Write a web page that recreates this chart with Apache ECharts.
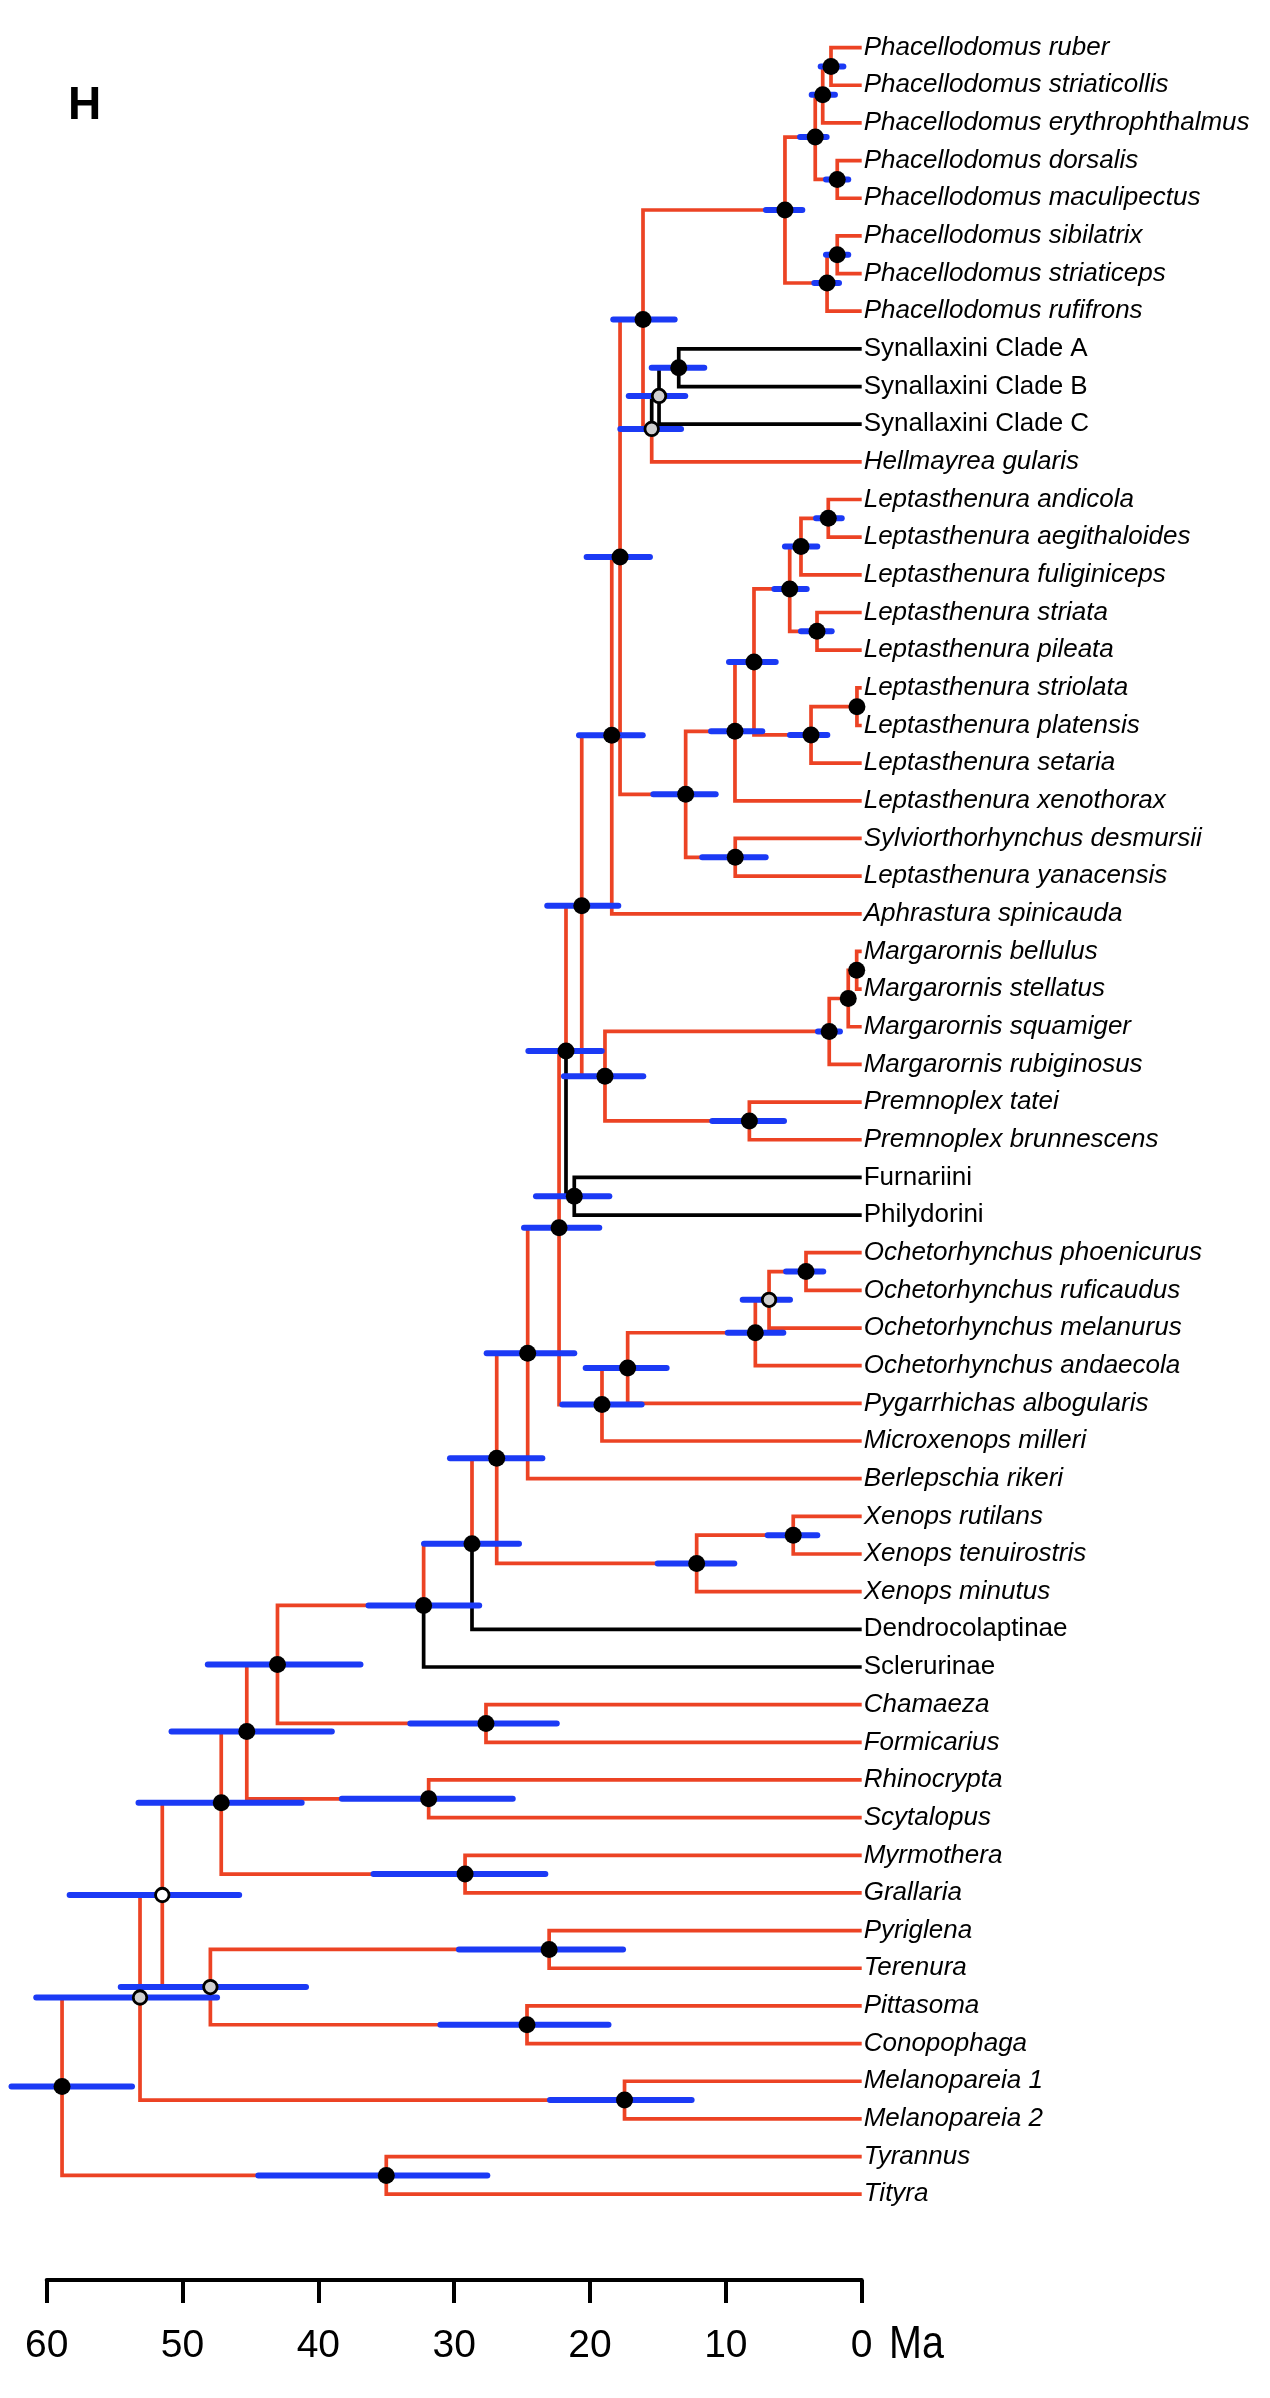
<!DOCTYPE html>
<html><head><meta charset="utf-8">
<script src="https://cdn.jsdelivr.net/npm/echarts/dist/echarts.min.js"></script>
<style>html,body{margin:0;padding:0;background:#fff}#chart{width:1270px;height:2398px}</style>
</head><body><div id="chart"></div>
<script>
// ---------- DATA ----------
const tipNames = [
  'Phacellodomus ruber','Phacellodomus striaticollis','Phacellodomus erythrophthalmus','Phacellodomus dorsalis',
  'Phacellodomus maculipectus','Phacellodomus sibilatrix','Phacellodomus striaticeps','Phacellodomus rufifrons',
  'Synallaxini Clade A','Synallaxini Clade B','Synallaxini Clade C','Hellmayrea gularis',
  'Leptasthenura andicola','Leptasthenura aegithaloides','Leptasthenura fuliginiceps','Leptasthenura striata',
  'Leptasthenura pileata','Leptasthenura striolata','Leptasthenura platensis','Leptasthenura setaria',
  'Leptasthenura xenothorax','Sylviorthorhynchus desmursii','Leptasthenura yanacensis','Aphrastura spinicauda',
  'Margarornis bellulus','Margarornis stellatus','Margarornis squamiger','Margarornis rubiginosus',
  'Premnoplex tatei','Premnoplex brunnescens','Furnariini','Philydorini',
  'Ochetorhynchus phoenicurus','Ochetorhynchus ruficaudus','Ochetorhynchus melanurus','Ochetorhynchus andaecola',
  'Pygarrhichas albogularis','Microxenops milleri','Berlepschia rikeri','Xenops rutilans',
  'Xenops tenuirostris','Xenops minutus','Dendrocolaptinae','Sclerurinae',
  'Chamaeza','Formicarius','Rhinocrypta','Scytalopus',
  'Myrmothera','Grallaria','Pyriglena','Terenura',
  'Pittasoma','Conopophaga','Melanopareia 1','Melanopareia 2',
  'Tyrannus','Tityra'
];
const plainTips = ['Synallaxini Clade A','Synallaxini Clade B','Synallaxini Clade C','Furnariini','Philydorini','Dendrocolaptinae','Sclerurinae'];

const nodeIds = ['n1','n2','n3','n4','n5','n6','n7','n8','n9','n10','n11','n12','n13','n14','n15','n16','n17','n18','n19','n20',
  'n21','n22','n23','n24','n25','n26','n27','n28','n29','n30','n31','n32','n33','n34','n35','n36','n37','n38','n39','n40',
  'n41','n42','n43','n44','n45','n46','n47','n48','n49','n50','n51','n52','n53','n54','n55','n56','n57'];
const nodeChildren = [
  [0,1],['n1',2],[3,4],['n2','n3'],[5,6],['n5',7],['n4','n6'],[8,9],['n8',10],['n9',11],
  ['n7','n10'],[12,13],['n12',14],[15,16],['n13','n14'],[17,18],['n16',19],['n15','n17'],['n18',20],[21,22],
  ['n19','n20'],['n11','n21'],['n22',23],[24,25],['n24',26],['n25',27],[28,29],['n26','n27'],['n23','n28'],[30,31],
  ['n29','n30'],[32,33],['n32',34],['n33',35],['n34',36],['n35',37],['n31','n36'],['n37',38],[39,40],['n39',41],
  ['n38','n40'],['n41',42],['n42',43],[44,45],['n43','n44'],[46,47],['n45','n46'],[48,49],['n47','n48'],[50,51],
  [52,53],['n50','n51'],['n49','n52'],[54,55],['n53','n54'],[56,57],['n55','n56']
];
const nodeAge = [2.26,2.87,1.80,3.42,1.80,2.55,5.65,13.47,14.92,15.46,16.10,2.46,4.47,3.29,5.30,0.35,3.73,7.93,9.33,9.31,
  12.96,17.79,18.40,0.37,0.99,2.39,8.27,18.90,20.61,21.16,21.77,4.10,6.82,7.83,17.23,19.12,22.28,24.59,5.04,12.15,
  26.87,28.69,32.25,27.66,43.01,31.88,45.27,29.20,47.15,23.01,24.64,47.95,51.49,17.46,53.13,35.00,58.87];
const hpdLow = [1.35,1.97,0.99,2.58,0.99,1.67,4.37,11.59,12.99,13.30,13.77,1.47,3.27,2.21,4.05,0.32,2.53,6.33,7.32,7.07,
  10.75,15.59,16.12,0.35,0.80,1.60,5.72,16.08,17.92,18.58,19.14,2.83,5.28,5.77,14.36,16.20,19.32,21.16,3.27,9.38,
  23.51,25.23,28.16,22.45,36.90,25.69,39.01,23.29,41.23,17.57,18.64,40.91,45.83,12.52,47.46,27.56,53.72];
const hpdHigh = [3.02,3.68,2.63,4.54,2.63,3.49,7.05,15.46,17.15,17.77,18.29,3.36,5.65,4.47,6.43,0.38,5.28,9.77,11.09,11.74,
  15.34,20.25,20.81,0.39,1.20,3.22,11.00,21.92,23.15,23.98,24.54,5.57,8.76,9.86,20.32,22.04,24.86,27.61,6.92,15.02,
  30.31,32.22,36.31,33.23,48.14,38.27,50.81,35.94,53.24,29.65,31.02,54.55,58.31,22.95,60.77,44.42,62.59];
const nodeFill = ['k','k','k','k','k','k','k','k','g','g','k','k','k','k','k','k','k','k','k','k',
  'k','k','k','k','k','k','k','k','k','k','k','k','g','k','k','k','k','k','k','k',
  'k','k','k','k','k','k','k','k','k','k','k','g','w','k','g','k','k'];
const blackEdges = [8,9,10,'n8','n9',30,31,'n30',42,43];
const axisTicks = [60,50,40,30,20,10,0];

// ---------- LAYOUT / STYLE ----------
const RED = '#EC4324', BLUE = '#1B3AF5', BLACK = '#000000', GRAY = '#CFCFCF';
const GRID_TOP = 10, GRID_BOTTOM = 118, TIP0 = 47.6, TIPSTEP = 37.66;
const Y_MIN = -(TIP0 - GRID_TOP) / TIPSTEP;
const Y_MAX = Y_MIN + (2398 - GRID_TOP - GRID_BOTTOM) / TIPSTEP;
const SANS = "'Liberation Sans',Arial,sans-serif";

// ---------- TREE GEOMETRY ----------
const nodeIndex = {}; nodeIds.forEach((id, i) => nodeIndex[id] = i);
const yMemo = {};
function getY(ref) {
  if (typeof ref === 'number') return ref;
  if (yMemo[ref] !== undefined) return yMemo[ref];
  const ch = nodeChildren[nodeIndex[ref]];
  const v = (getY(ch[0]) + getY(ch[1])) / 2;
  yMemo[ref] = v; return v;
}
function getAge(ref) { return typeof ref === 'number' ? 0 : nodeAge[nodeIndex[ref]]; }

const edgeData = [];
nodeIds.forEach((id, i) => {
  const pa = nodeAge[i], py = getY(id);
  nodeChildren[i].forEach(c => {
    edgeData.push([getAge(c), getY(c), pa, py, blackEdges.indexOf(c) >= 0 ? 1 : 0]);
  });
});
const barData = nodeIds.map((id, i) => [hpdLow[i], hpdHigh[i], getY(id)]);
const dotsBy = f => nodeIds.map((id, i) => nodeFill[i] === f ? [nodeAge[i], getY(id)] : null).filter(Boolean);
const tipData = tipNames.map((n, i) => [0, i]);

const chart = echarts.init(document.getElementById('chart'), null, {renderer: 'canvas'});
chart.setOption({
  animation: false,
  backgroundColor: '#ffffff',
  grid: {left: 46.7, right: 408.3, top: GRID_TOP, bottom: GRID_BOTTOM, containLabel: false},
  xAxis: {
    type: 'value', min: 0, max: 60, interval: 10, inverse: true, position: 'bottom',
    axisLine: {onZero: false, lineStyle: {color: BLACK, width: 4}},
    axisTick: {length: 23, lineStyle: {color: BLACK, width: 4}},
    axisLabel: {fontSize: 39, color: BLACK, margin: 47, fontFamily: SANS,
      formatter: v => axisTicks.indexOf(v) >= 0 ? String(v) : ''},
    splitLine: {show: false}
  },
  yAxis: {type: 'value', min: Y_MIN, max: Y_MAX, inverse: true, show: false},
  graphic: [
    {type: 'text', x: 68, y: 106, z: 10, style: {text: 'H', fontSize: 46, fontWeight: 'bold', fontFamily: SANS, fill: BLACK, verticalAlign: 'middle'}},
    {type: 'text', x: 889, y: 2345, scaleX: 0.84, z: 10, style: {text: 'Ma', fontSize: 47, fontFamily: SANS, fill: BLACK, verticalAlign: 'middle'}}
  ],
  series: [
    {
      type: 'custom', name: 'branches', z: 1, clip: false, data: edgeData,
      encode: {x: [0, 2], y: [1, 3]},
      renderItem: (params, api) => {
        const c = api.coord([api.value(0), api.value(1)]);
        const m = api.coord([api.value(2), api.value(1)]);
        const p = api.coord([api.value(2), api.value(3)]);
        return {type: 'polyline', shape: {points: [p, m, c]},
          style: {stroke: api.value(4) ? BLACK : RED, lineWidth: 3.7, fill: null, lineJoin: 'miter', lineCap: 'butt'}};
      }
    },
    {
      type: 'custom', name: 'hpd', z: 2, clip: false, data: barData,
      encode: {x: [0, 1], y: 2},
      renderItem: (params, api) => {
        const a = api.coord([api.value(0), api.value(2)]);
        const b = api.coord([api.value(1), api.value(2)]);
        return {type: 'line', shape: {x1: a[0], y1: a[1], x2: b[0], y2: b[1]},
          style: {stroke: BLUE, lineWidth: 6, lineCap: 'round'}};
      }
    },
    {type: 'scatter', name: 'black', z: 3, data: dotsBy('k'), symbol: 'circle', symbolSize: 17,
      itemStyle: {color: BLACK, opacity: 1}, emphasis: {disabled: true}},
    {type: 'scatter', name: 'gray', z: 3, data: dotsBy('g'), symbol: 'circle', symbolSize: 13.5,
      itemStyle: {color: GRAY, borderColor: BLACK, borderWidth: 2.8, opacity: 1}, emphasis: {disabled: true}},
    {type: 'scatter', name: 'white', z: 3, data: dotsBy('w'), symbol: 'circle', symbolSize: 13.5,
      itemStyle: {color: '#ffffff', borderColor: BLACK, borderWidth: 2.8, opacity: 1}, emphasis: {disabled: true}},
    {
      type: 'custom', name: 'tips', z: 4, clip: false, data: tipData,
      encode: {x: 0, y: 1},
      renderItem: (params, api) => {
        const p = api.coord([api.value(0), api.value(1)]);
        const name = tipNames[params.dataIndex];
        return {type: 'text', x: p[0] + 2, y: p[1],
          style: {text: name, fontSize: 26, fontFamily: SANS,
            fontStyle: plainTips.indexOf(name) >= 0 ? 'normal' : 'italic',
            fill: BLACK, align: 'left', verticalAlign: 'middle'}};
      }
    }
  ]
});
</script></body></html>
